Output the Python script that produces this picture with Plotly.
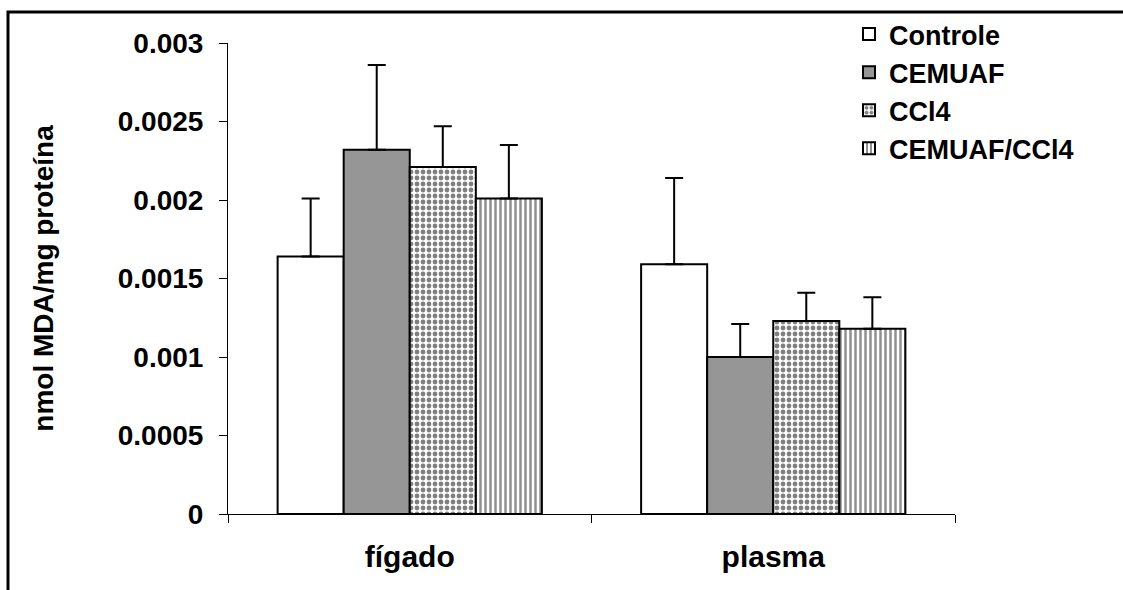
import plotly.graph_objects as go

# Tissue groups on the x axis
categories = ["fígado", "plasma"]

# Treatment groups (legend order)
groups = ["Controle", "CEMUAF", "CCl4", "CEMUAF/CCl4"]

# Mean MDA per group, one value per tissue
controle = [0.00164, 0.00159]
cemuaf = [0.00232, 0.00100]
ccl4 = [0.00221, 0.00123]
cemuaf_ccl4 = [0.00201, 0.00118]

# Upper error (SD) per group, one value per tissue
controle_err = [0.00037, 0.00055]
cemuaf_err = [0.00054, 0.00021]
ccl4_err = [0.00026, 0.00018]
cemuaf_ccl4_err = [0.00034, 0.00020]

# Y axis ticks
y_tickvals = [0, 0.0005, 0.001, 0.0015, 0.002, 0.0025, 0.003]
y_ticktext = ["0", "0.0005", "0.001", "0.0015", "0.002", "0.0025", "0.003"]

FONT = "Liberation Sans, Arial, sans-serif"

values = [controle, cemuaf, ccl4, cemuaf_ccl4]
errors = [controle_err, cemuaf_err, ccl4_err, cemuaf_ccl4_err]
styles = [
    dict(color="white"),
    dict(color="#969696"),
    dict(color="white", pattern=dict(shape=".", fgcolor="black", bgcolor="white",
                                     size=6, solidity=0.5)),
    dict(color="white", pattern=dict(shape="|", fgcolor="#222222", bgcolor="white",
                                     size=5, solidity=0.5)),
]

fig = go.Figure()
for name, vals, err, st in zip(groups, values, errors, styles):
    marker = dict(line=dict(color="black", width=2), **st)
    fig.add_trace(go.Bar(
        name=name,
        x=categories,
        y=vals,
        marker=marker,
        error_y=dict(type="data", symmetric=False, array=err,
                     arrayminus=[0] * len(err), color="black",
                     thickness=2, width=9),
    ))

# Plot area in pixels
W, H = 1123, 590
L, R, T, B = 228, 168, 43, 76
pw, ph = W - L - R, H - T - B

def px_x(p):
    return (p - L) / pw

def px_y(p):
    return (H - B - p) / ph

fig.update_layout(
    width=W, height=H,
    margin=dict(l=L, r=R, t=T, b=B, autoexpand=False),
    paper_bgcolor="white", plot_bgcolor="white",
    barmode="group", bargap=0.273, bargroupgap=0,
    font=dict(family=FONT, color="black", size=28, weight="bold"),
    legend=dict(
        x=px_x(849), y=px_y(10), xanchor="left", yanchor="top",
        font=dict(family=FONT, size=27, color="black", weight="bold"),
        bgcolor="rgba(0,0,0,0)", borderwidth=0, tracegroupgap=0,
    ),
    showlegend=True,
    xaxis=dict(
        showline=True, linecolor="black", linewidth=1,
        ticks="outside", tickson="boundaries", ticklen=8, tickcolor="black",
        tickfont=dict(family=FONT, size=30, weight="bold"),
        ticklabelstandoff=16,
        showgrid=False, zeroline=False,
    ),
    yaxis=dict(
        range=[0, 0.003],
        tickvals=y_tickvals, ticktext=y_ticktext,
        showline=True, linecolor="black", linewidth=1,
        ticks="outside", ticklen=8, tickcolor="black",
        tickfont=dict(family=FONT, size=28, weight="bold"),
        ticklabelstandoff=10,
        showgrid=False, zeroline=False,
        title=dict(text="nmol MDA/mg proteína", standoff=55,
                   font=dict(family=FONT, size=28, weight="bold")),
    ),
    shapes=[
        # outer frame around the chart (runs off the right and bottom edges)
        dict(type="rect", xref="paper", yref="paper",
             x0=px_x(8), x1=px_x(W + 20), y0=px_y(H + 20), y1=px_y(12),
             line=dict(color="black", width=3), fillcolor="rgba(0,0,0,0)",
             layer="above"),
    ],
)

fig.write_html("out.html")
